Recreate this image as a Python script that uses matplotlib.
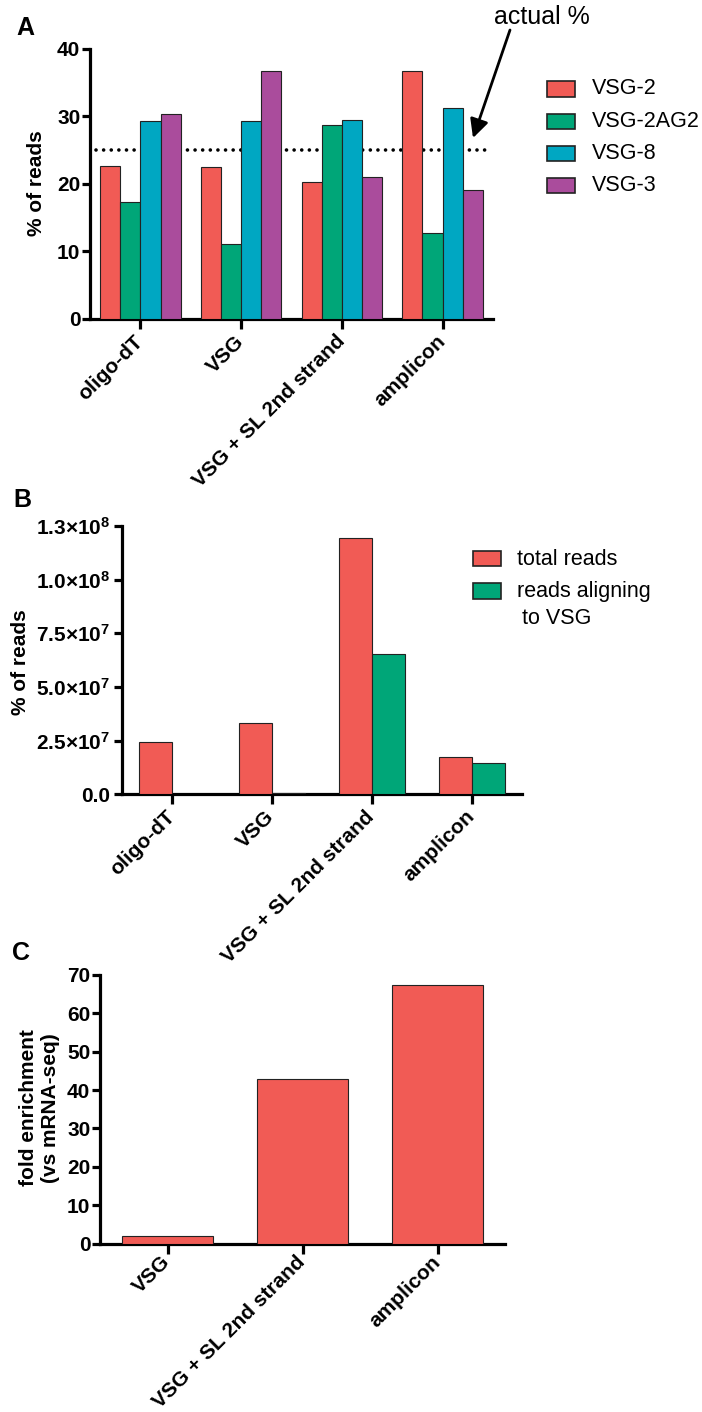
import matplotlib
matplotlib.use("Agg")
import matplotlib.pyplot as plt
from matplotlib.patches import Rectangle
import numpy as np

plt.rcParams["font.family"] = ["Liberation Sans", "DejaVu Sans"]
plt.rcParams["mathtext.fontset"] = "custom"
plt.rcParams["mathtext.rm"] = "Liberation Sans"
plt.rcParams["mathtext.bf"] = "Liberation Sans:bold"
plt.rcParams["mathtext.default"] = "bf"

# panel A: share of reads per VSG for each library prep
methods_a = ["oligo-dT", "VSG", "VSG + SL 2nd strand", "amplicon"]
vsgs = ["VSG-2", "VSG-2AG2", "VSG-8", "VSG-3"]
vsg2 = [22.7, 22.5, 20.3, 36.7]
vsg2ag2 = [17.3, 11.1, 28.8, 12.7]
vsg8 = [29.4, 29.4, 29.5, 31.2]
vsg3 = [30.3, 36.7, 21.1, 19.1]
actual_pct = 25

# panel B: read counts
methods_b = ["oligo-dT", "VSG", "VSG + SL 2nd strand", "amplicon"]
total_reads = [2.45e7, 3.31e7, 1.194e8, 1.72e7]
vsg_reads = [1.0e5, 6.0e5, 6.54e7, 1.47e7]
b_ticks = [0, 2.5e7, 5.0e7, 7.5e7, 1.0e8, 1.25e8]
b_ticklabels = ["0.0", "2.5×10$^{7}$", "5.0×10$^{7}$", "7.5×10$^{7}$",
                "1.0×10$^{8}$", "1.3×10$^{8}$"]

# panel C: fold enrichment vs mRNA-seq
methods_c = ["VSG", "VSG + SL 2nd strand", "amplicon"]
enrichment = [2.0, 42.8, 67.3]

RED = "#f15b55"
GREEN = "#00a678"
CYAN = "#00a7c2"
PURPLE = "#aa4c9c"
colors_a = [RED, GREEN, CYAN, PURPLE]

W, H = 702, 1412
fig = plt.figure(figsize=(W / 100, H / 100), dpi=100)


def px(x, y):
    return x / W, 1 - y / H


def style_axes(ax, xpad=7):
    for s in ["top", "right"]:
        ax.spines[s].set_visible(False)
    for s in ["left", "bottom"]:
        ax.spines[s].set_linewidth(2.3)
    ax.tick_params(axis="both", direction="out", length=6, width=2.3,
                   labelsize=15, pad=1)
    ax.tick_params(axis="x", length=7, pad=xpad)
    for lab in ax.get_yticklabels():
        lab.set_fontweight("bold")


def rotated_xlabels(ax, labels):
    ax.set_xticklabels(labels, rotation=45, ha="right", va="center",
                       rotation_mode="anchor", fontweight="bold", fontsize=15)


# ---- A ----
axA = fig.add_axes([0.1282, 0.7741, 0.5741, 0.1912])
x = np.arange(len(methods_a))
w = 0.2
for i, (vals, c) in enumerate(zip([vsg2, vsg2ag2, vsg8, vsg3], colors_a)):
    axA.bar(x + (i - 1.5) * w, vals, w, color=c, edgecolor="#222222",
            linewidth=0.8, zorder=3)
axA.hlines(actual_pct, -0.44, 3.45, colors="black", linewidth=2.6,
           linestyles=(0, (0.01, 2.1)), zorder=1)
axA.collections[-1].set_capstyle("round")
axA.set_xlim(-0.5, 3.5)
axA.set_ylim(0, 40)
axA.set_yticks([0, 10, 20, 30, 40])
axA.set_xticks(x)
style_axes(axA)
rotated_xlabels(axA, methods_a)

fig.text(*px(37, 183), "% of reads", rotation=90, ha="center", va="center",
         fontsize=15, fontweight="bold")
fig.text(*px(25, 28), "A", ha="center", va="center", fontsize=18,
         fontweight="bold")
fig.text(*px(542, 17), "actual %", ha="center", va="center", fontsize=18)
axA.annotate("", xy=px(473, 138), xycoords="figure fraction",
             xytext=px(510, 30), textcoords="figure fraction",
             arrowprops=dict(arrowstyle="-|>", color="black", lw=2,
                             mutation_scale=28, shrinkA=0, shrinkB=0))

for i, (name, c) in enumerate(zip(vsgs, colors_a)):
    yc = 89 + i * 32.3
    fig.add_artist(Rectangle(px(547, yc + 7.5), 28 / W, 15 / H,
                             transform=fig.transFigure, facecolor=c,
                             edgecolor="#222222", linewidth=1.2))
    fig.text(*px(592, yc), name, ha="left", va="center", fontsize=15.5)

# ---- B ----
axB = fig.add_axes([0.1731, 0.4375, 0.5698, 0.1900])
x = np.arange(len(methods_b))
w = 0.33
axB.bar(x - w / 2, total_reads, w, color=RED, edgecolor="#222222",
        linewidth=0.8, zorder=3)
axB.bar(x + w / 2, vsg_reads, w, color=GREEN, edgecolor="#222222",
        linewidth=0.8, zorder=3)
axB.set_xlim(-0.5, 3.5)
axB.set_ylim(0, 1.25e8)
axB.set_yticks(b_ticks)
axB.set_yticklabels(b_ticklabels)
axB.set_xticks(x)
style_axes(axB)
axB.tick_params(axis="y", pad=2)
rotated_xlabels(axB, methods_b)

fig.text(*px(21, 662), "% of reads", rotation=90, ha="center", va="center",
         fontsize=15, fontweight="bold")
fig.text(*px(22, 500), "B", ha="center", va="center", fontsize=18,
         fontweight="bold")
for yc, c in [(559, RED), (591, GREEN)]:
    fig.add_artist(Rectangle(px(473, yc + 7.5), 28 / W, 15 / H,
                             transform=fig.transFigure, facecolor=c,
                             edgecolor="#222222", linewidth=1.2))
fig.text(*px(517, 559), "total reads", ha="left", va="center", fontsize=15.5)
fig.text(*px(517, 591), "reads aligning", ha="left", va="center", fontsize=15.5)
fig.text(*px(522, 618), "to VSG", ha="left", va="center", fontsize=15.5)

# ---- C ----
axC = fig.add_axes([0.1425, 0.1193, 0.5769, 0.1902])
x = np.arange(len(methods_c))
axC.bar(x, enrichment, 0.67, color=RED, edgecolor="#222222", linewidth=0.8,
        zorder=3)
axC.set_xlim(-0.5, 2.5)
axC.set_ylim(0, 70)
axC.set_yticks(np.arange(0, 71, 10))
axC.set_xticks(x)
style_axes(axC, xpad=4)
rotated_xlabels(axC, methods_c)

fig.text(*px(40, 1108), "fold enrichment\n(vs mRNA-seq)", rotation=90,
         ha="center", va="center", multialignment="center", fontsize=15,
         fontweight="bold")
fig.text(*px(21, 953), "C", ha="center", va="center", fontsize=18,
         fontweight="bold")

fig.savefig("out.png", dpi=100, facecolor="white")
